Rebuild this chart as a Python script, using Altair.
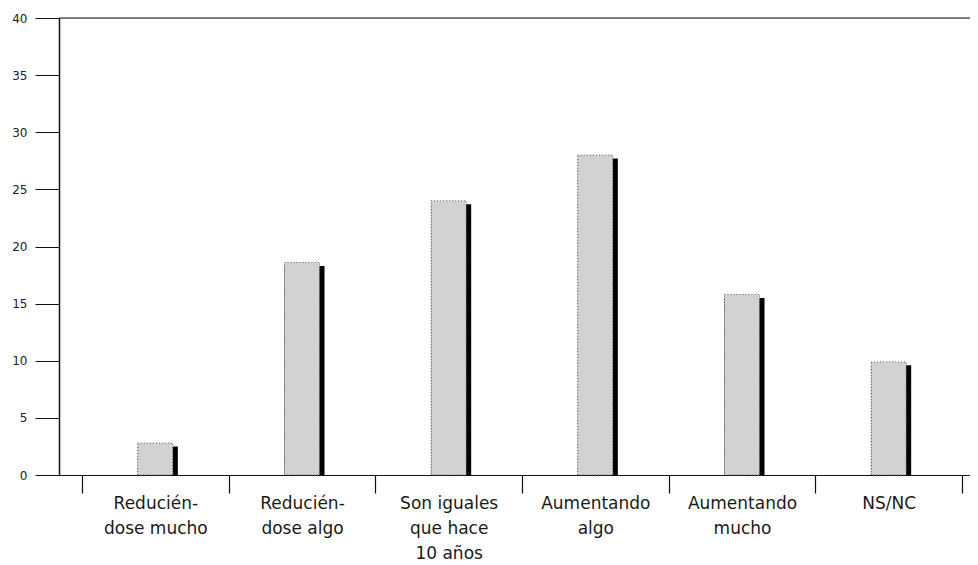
import altair as alt
import pandas as pd

categories = [
    "Reducién-|dose mucho",
    "Reducién-|dose algo",
    "Son iguales|que hace|10 años",
    "Aumentando|algo",
    "Aumentando|mucho",
    "NS/NC",
]
values = [2.8, 18.6, 24.0, 28.0, 15.8, 9.9]
y_ticks = [0, 5, 10, 15, 20, 25, 30, 35, 40]

df = pd.DataFrame({"cat": categories, "val": values})

x_scale = alt.Scale(domain=categories, paddingInner=0, paddingOuter=0.1057, align=0.742)
y_scale = alt.Scale(domain=[0, 40], nice=False)

x_enc = alt.X(
    "cat:N",
    scale=x_scale,
    sort=categories,
    title=None,
    axis=alt.Axis(
        labelExpr="split(datum.label, '|')",
        labelAngle=0,
        labelFont="DejaVu Sans",
        labelFontSize=17,
        labelColor="#1a1a1a",
        labelLineHeight=25,
        labelPadding=2,
        tickBand="extent",
        tickSize=18,
        tickColor="#111",
        tickWidth=1.2,
        domainColor="#111",
        domainWidth=1.2,
        labelLimit=300,
    ),
)

y_enc_axis = alt.Axis(
    values=y_ticks,
    labelFont="DejaVu Sans",
    labelFontSize=12,
    labelColor="#222",
    labelPadding=8,
    tickSize=24,
    tickColor="#111",
    tickWidth=1,
    domainColor="#111",
    domainWidth=1.5,
    grid=False,
    title=None,
)

base = alt.Chart(df)

shadow = base.transform_calculate(top="datum.val - 0.3").mark_bar(
    color="#000", size=40, xOffset=2.5
).encode(
    x=x_enc,
    y=alt.Y("top:Q", scale=y_scale, axis=y_enc_axis),
    y2=alt.datum(0),
)

bars = base.mark_bar(
    fill="#d2d2d2", stroke="#555", strokeDash=[1, 2], strokeWidth=1, size=35
).encode(
    x=x_enc,
    y=alt.Y("val:Q", scale=y_scale, axis=y_enc_axis),
)

top_rule = alt.Chart(pd.DataFrame({"v": [40]})).mark_rule(
    color="#111", strokeWidth=1.2
).encode(y=alt.Y("v:Q", scale=y_scale, axis=y_enc_axis))

chart = alt.layer(shadow, bars, top_rule).properties(
    width=911,
    height=457,
    autosize=alt.AutoSizeParams(type="none"),
    padding={"left": 51, "top": 10, "right": 0, "bottom": 90},
).configure_view(stroke=None).configure(background="white")

chart.save("out.html", embed_options={"renderer": "svg", "actions": False})
